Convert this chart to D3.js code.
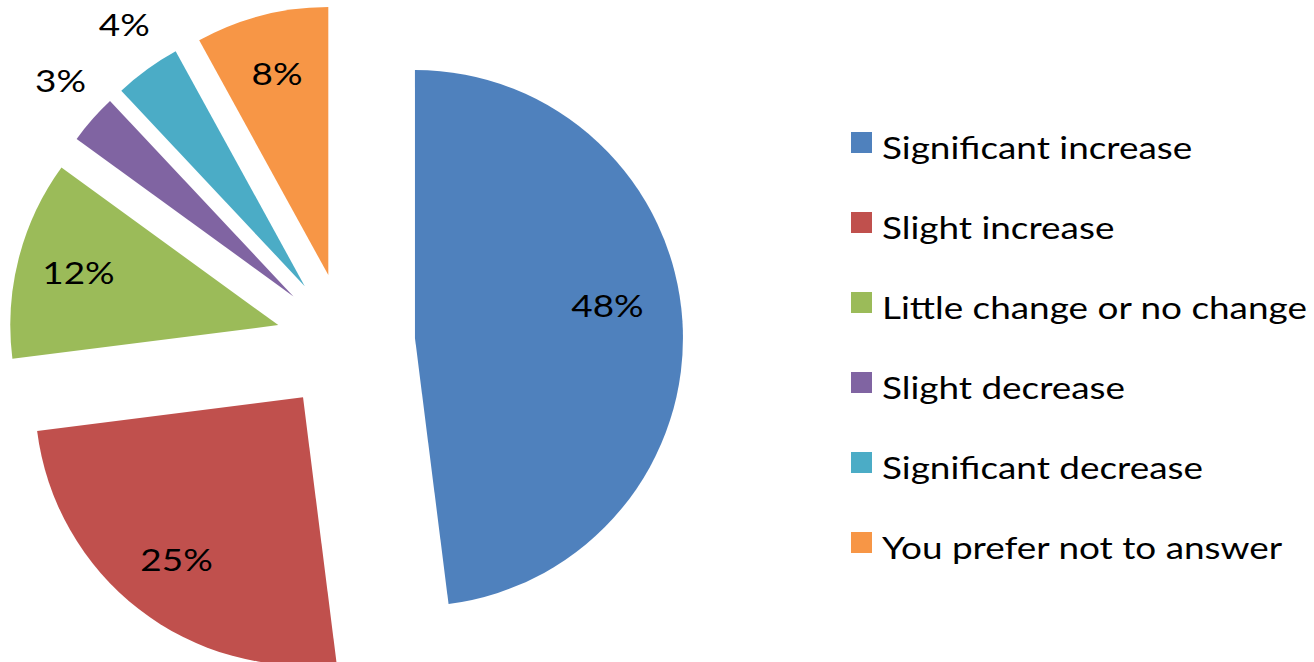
<!DOCTYPE html>
<html>
<head>
<meta charset="utf-8">
<script src="https://cdn.jsdelivr.net/npm/d3@7"></script>
<style>
  html, body { margin: 0; padding: 0; background: #fff; }
  svg { display: block; }
  text { font-family: Lato, "Open Sans", sans-serif; fill: #000; }
</style>
</head>
<body>
<svg id="chart" width="1314" height="662"></svg>
<script>
// Survey answers and their shares (percent)
const categories = [
  "Significant increase",
  "Slight increase",
  "Little change or no change",
  "Slight decrease",
  "Significant decrease",
  "You prefer not to answer"
];
const values = [48, 25, 12, 3, 4, 8];
const colors = ["#4F81BD", "#C0504D", "#9BBB59", "#8064A2", "#4BACC6", "#F79646"];

// Layout
const cx = 345.6, cy = 342.4;   // pie centre before exploding
const R = 268;                  // slice radius
const explode = 69.5;           // distance each slice is pulled out
const fontSize = 31;
const stretchX = 1.19;          // wide letterforms
const deg = Math.PI / 180;

const svg = d3.select("#chart");

const pie = d3.pie().sort(null).value(d => d.value);
const arc = d3.arc().innerRadius(0).outerRadius(R);

const data = categories.map((c, i) => ({ name: c, value: values[i] }));
const arcs = pie(data);

const color = d3.scaleOrdinal().domain(categories).range(colors);
const pct = d3.format(".0%");

const slices = svg.append("g").attr("class", "slices");

arcs.forEach(a => {
  const mid = (a.startAngle + a.endAngle) / 2;
  const ox = cx + Math.sin(mid) * explode;
  const oy = cy - Math.cos(mid) * explode;
  const g = slices.append("g").attr("transform", `translate(${ox},${oy})`);
  g.append("path").attr("d", arc(a)).attr("fill", color(a.data.name));

  // Labels: inside the wider slices, just outside the narrow ones
  const inside = a.data.value >= 5;
  let ang = inside ? mid : mid + 1.3 * deg;
  let rr = inside ? R * 0.77 : R + 49;
  if (a.index === 0) { ang -= 5.6 * deg; rr = 195; }
  const lx = Math.sin(ang) * rr, ly = -Math.cos(ang) * rr - 2;
  g.append("text")
    .attr("transform", `translate(${lx},${ly}) scale(${stretchX},1)`)
    .attr("text-anchor", "middle")
    .attr("dominant-baseline", "central")
    .attr("font-size", fontSize)
    .text(pct(a.data.value / 100));
});

// Legend
const legend = svg.append("g").attr("class", "legend").attr("transform", "translate(851,132)");
const rowStep = 80;
const items = legend.selectAll("g").data(categories).join("g")
  .attr("transform", (d, i) => `translate(0,${i * rowStep})`);
items.append("rect").attr("width", 21).attr("height", 21).attr("fill", d => color(d));
items.append("text")
  .attr("transform", `translate(31,27) scale(${stretchX},1)`)
  .attr("font-size", fontSize)
  .text(d => d);
</script>
</body>
</html>
